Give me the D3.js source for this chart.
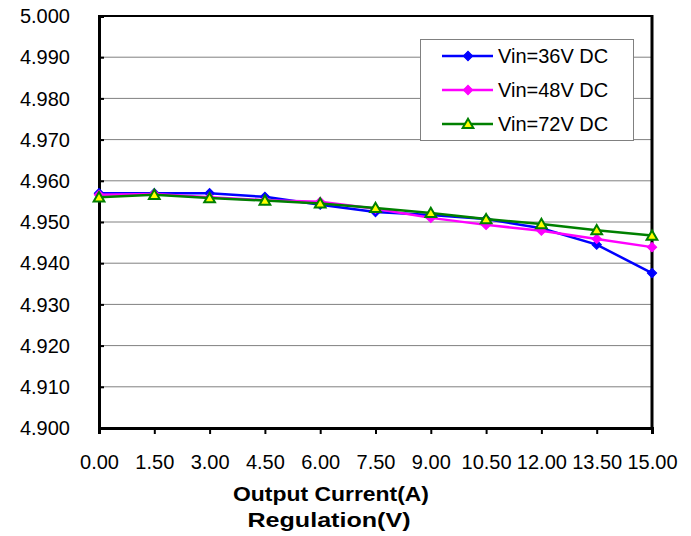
<!DOCTYPE html>
<html>
<head>
<meta charset="utf-8">
<script src="https://cdn.jsdelivr.net/npm/d3@7/dist/d3.min.js"></script>
<style>
  html, body { margin: 0; padding: 0; background: #fff; }
  svg { display: block; font-family: Arial, "Liberation Sans", sans-serif; }
</style>
</head>
<body>
<svg id="chart" width="691" height="536"></svg>
<script>
// Output current steps (A)
const currents = [0, 1.5, 3, 4.5, 6, 7.5, 9, 10.5, 12, 13.5, 15];
const currentTickLabels = ["0.00", "1.50", "3.00", "4.50", "6.00", "7.50", "9.00", "10.50", "12.00", "13.50", "15.00"];

// Output voltage (V) at each input voltage
const vin36 = [4.9570, 4.9570, 4.9570, 4.9561, 4.9542, 4.9524, 4.9517, 4.9507, 4.9485, 4.9445, 4.9376];
const vin48 = [4.9566, 4.9568, 4.9560, 4.9553, 4.9549, 4.9532, 4.9510, 4.9493, 4.9479, 4.9459, 4.9439];
const vin72 = [4.9560, 4.9566, 4.9558, 4.9552, 4.9545, 4.9534, 4.9522, 4.9507, 4.9495, 4.9480, 4.9467];

const seriesNames = ["Vin=36V DC", "Vin=48V DC", "Vin=72V DC"];
const voltageTicks = [4.90, 4.91, 4.92, 4.93, 4.94, 4.95, 4.96, 4.97, 4.98, 4.99, 5.00];

const svg = d3.select("#chart");
const plot = { left: 99, right: 652, top: 16, bottom: 428 };

const x = d3.scaleLinear().domain([0, 15]).range([plot.left, plot.right]);
const y = d3.scaleLinear().domain([4.90, 5.00]).range([plot.bottom, plot.top]);

// Horizontal gridlines
svg.append("g")
  .selectAll("line")
  .data(voltageTicks.slice(1, -1))
  .join("line")
  .attr("x1", plot.left).attr("x2", plot.right)
  .attr("y1", d => y(d)).attr("y2", d => y(d))
  .attr("stroke", "#808080").attr("stroke-width", 1);

// Plot frame
svg.append("rect")
  .attr("x", plot.left).attr("y", plot.top)
  .attr("width", plot.right - plot.left).attr("height", plot.bottom - plot.top)
  .attr("fill", "none").attr("stroke", "#000").attr("stroke-width", 2);

// Y axis: inner ticks, labels right-aligned well left of the axis
const yAxis = svg.append("g").attr("transform", `translate(${plot.left},0)`)
  .call(d3.axisRight(y).tickValues(voltageTicks).tickSize(5).tickFormat(""));
yAxis.select(".domain").attr("stroke", "#000").attr("stroke-width", 3);
yAxis.selectAll(".tick line").attr("stroke", "#000").attr("stroke-width", 2);

svg.append("g")
  .selectAll("text")
  .data(voltageTicks)
  .join("text")
  .attr("x", 70)
  .attr("y", d => y(d))
  .attr("dy", "0.36em")
  .attr("text-anchor", "end")
  .attr("font-size", 20)
  .attr("fill", "#000")
  .text(d => d3.format(".3f")(d));

// X axis: outer ticks
const xAxis = svg.append("g").attr("transform", `translate(0,${plot.bottom})`)
  .call(d3.axisBottom(x).tickValues(currents).tickSize(6)
    .tickFormat((d, i) => currentTickLabels[i]));
xAxis.select(".domain").attr("stroke", "#000").attr("stroke-width", 3);
xAxis.selectAll(".tick line").attr("stroke", "#000").attr("stroke-width", 2);
xAxis.selectAll(".tick text")
  .attr("font-size", 20).attr("fill", "#000")
  .attr("y", 41).attr("dy", 0)
  .attr("font-family", "Arial, 'Liberation Sans', sans-serif");

// Right border thicker like the axes
svg.append("line")
  .attr("x1", plot.right).attr("x2", plot.right)
  .attr("y1", plot.top - 1).attr("y2", plot.bottom + 1)
  .attr("stroke", "#000").attr("stroke-width", 3);

// Axis titles
svg.append("text")
  .attr("x", 331).attr("y", 501)
  .attr("text-anchor", "middle")
  .attr("font-size", 21).attr("font-weight", "bold")
  .attr("textLength", 196).attr("lengthAdjust", "spacingAndGlyphs")
  .text("Output Current(A)");
svg.append("text")
  .attr("x", 329).attr("y", 527)
  .attr("text-anchor", "middle")
  .attr("font-size", 21).attr("font-weight", "bold")
  .attr("textLength", 163).attr("lengthAdjust", "spacingAndGlyphs")
  .text("Regulation(V)");

// Series
const series = [
  { name: seriesNames[0], values: vin36, color: "#0000FF", marker: "diamond", fill: "#0000FF" },
  { name: seriesNames[1], values: vin48, color: "#FF00FF", marker: "diamond", fill: "#FF00FF" },
  { name: seriesNames[2], values: vin72, color: "#008000", marker: "triangle", fill: "#FFFF00" }
];

const diamond = d3.symbol().type(d3.symbolSquare).size(44);
const triangle = d3.symbol().type(d3.symbolTriangle).size(50);

function drawMarker(g, s, cx, cy) {
  if (s.marker === "diamond") {
    g.append("path")
      .attr("d", diamond())
      .attr("transform", `translate(${cx},${cy}) rotate(45)`)
      .attr("fill", s.fill).attr("stroke", s.color).attr("stroke-width", 1);
  } else {
    g.append("path")
      .attr("d", triangle())
      .attr("transform", `translate(${cx},${cy + 1})`)
      .attr("fill", s.fill).attr("stroke", s.color).attr("stroke-width", 2);
  }
}

const line = d3.line().x((d, i) => x(currents[i])).y(d => y(d));

series.forEach(s => {
  const g = svg.append("g");
  g.append("path")
    .datum(s.values)
    .attr("d", line)
    .attr("fill", "none")
    .attr("stroke", s.color)
    .attr("stroke-width", 2.5);
  s.values.forEach((v, i) => drawMarker(g, s, x(currents[i]), y(v)));
});

// Legend
const legend = svg.append("g");
legend.append("rect")
  .attr("x", 420.5).attr("y", 39.5).attr("width", 213).attr("height", 101)
  .attr("fill", "#fff").attr("stroke", "#808080").attr("stroke-width", 1);

const legendRows = [56, 90, 124];
series.forEach((s, i) => {
  const ly = legendRows[i];
  legend.append("line")
    .attr("x1", 442).attr("x2", 493).attr("y1", ly).attr("y2", ly)
    .attr("stroke", s.color).attr("stroke-width", 2.5);
  drawMarker(legend, s, 468, ly);
  legend.append("text")
    .attr("x", 498).attr("y", ly)
    .attr("dy", "0.36em")
    .attr("font-size", 20).attr("fill", "#000")
    .text(s.name);
});
</script>
</body>
</html>
